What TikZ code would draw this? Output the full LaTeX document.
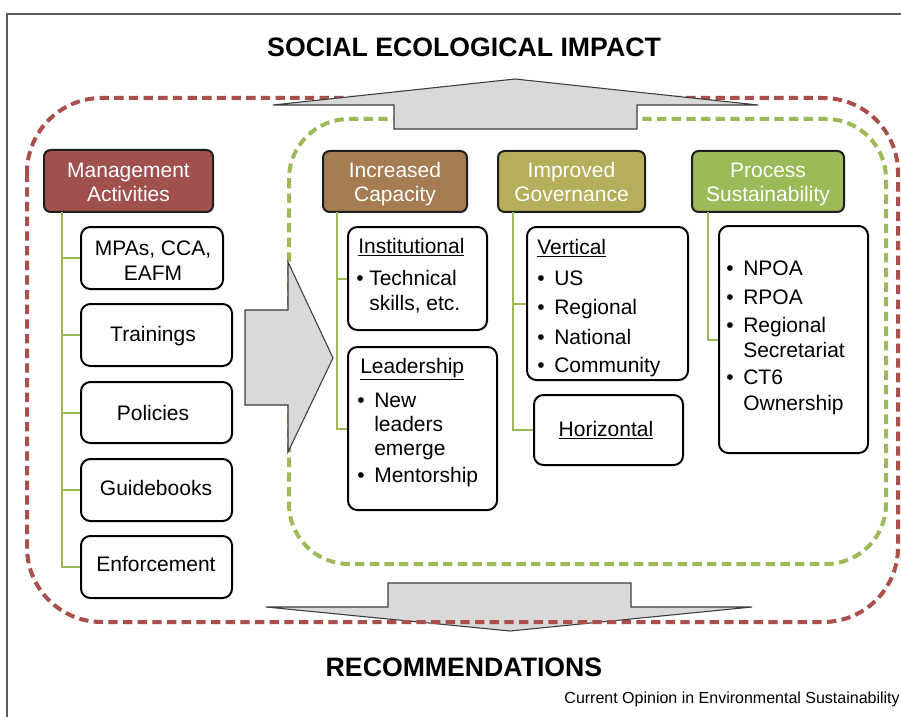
\documentclass[tikz,border=0pt]{standalone}
\usepackage{fontspec}
\setmainfont{Liberation Sans}
\usetikzlibrary{fit}
\definecolor{dashred}{RGB}{170,80,76}
\definecolor{dashgreen}{RGB}{155,187,89}
\definecolor{conngreen}{RGB}{155,187,89}
\definecolor{hdrline}{RGB}{30,30,30}
\definecolor{mafill}{RGB}{160,80,77}
\definecolor{icfill}{RGB}{166,124,82}
\definecolor{igfill}{RGB}{181,174,90}
\definecolor{psfill}{RGB}{155,187,89}
\definecolor{arrowfill}{RGB}{217,217,217}
\definecolor{arrowline}{RGB}{60,60,60}
\definecolor{framegray}{RGB}{90,90,90}
\begin{document}
\begin{tikzpicture}[x=0.75pt,y=-0.75pt,
 txt/.style={font=\fontsize{15.75}{19}\selectfont, inner sep=0pt, anchor=base west},
 ctxt/.style={txt, anchor=base},
 htxt/.style={ctxt, text=white},
 hdr/.style={draw=hdrline, line width=1.5pt, rounded corners=5pt, inner sep=0pt},
 wbox/.style={draw=black, fill=white, line width=1.5pt, rounded corners=7pt, inner sep=0pt},
 conn/.style={draw=conngreen, line width=1.5pt},
 bigarrow/.style={fill=arrowfill, draw=arrowline, line width=0.8pt, line join=miter},
 reddash/.style={draw=dashred, line width=3pt, dash pattern=on 7pt off 4pt},
 greendash/.style={draw=dashgreen, line width=3pt, dash pattern=on 7pt off 4pt},
 bigtitle/.style={font=\fontsize{20}{24}\selectfont\bfseries, inner sep=0pt}
]
\useasboundingbox (0,0) rectangle (901,717);
% frame
\draw[framegray, line width=1.5pt] (7,717) -- (7,14) -- (901,14);
% titles
\node[bigtitle] (title) at (464,47) {SOCIAL ECOLOGICAL IMPACT};
\node[bigtitle] (reco) at (464,667) {RECOMMENDATIONS};
\node[font=\fontsize{12}{14}\selectfont, inner sep=0pt, anchor=base east] (src) at (900,703) {Current Opinion in Environmental Sustainability};
% dashed frames and big arrows
\draw[greendash, rounded corners=45pt] (289,119) rectangle (886,564);
\draw[bigarrow] (266,607) -- (388,607) -- (388,583) -- (631,583) -- (631,607) -- (752,607) -- (510,631) -- cycle;
\draw[reddash, rounded corners=56pt] (27,98) rectangle (898,622);
\draw[bigarrow] (273,105) -- (515,79) -- (758,105) -- (637,105) -- (637,129) -- (394,129) -- (394,105) -- cycle;
\draw[bigarrow] (245,310) -- (288,310) -- (288,262) -- (333,358) -- (288,452) -- (288,405) -- (245,405) -- cycle;
% headers
\node[hdr, fill=mafill, fit={(44,150) (213,212)}] (ma) {};
\node[hdr, fill=icfill, fit={(323,151) (467,212)}] (ic) {};
\node[hdr, fill=igfill, fit={(498,151) (645,212)}] (ig) {};
\node[hdr, fill=psfill, fit={(692,151) (844,212)}] (ps) {};
\node[htxt] (ma1) at (128.5,178) {Management};
\node[htxt] (ma2) at (128.5,201) {Activities};
\node[htxt] (ic1) at (395,178) {Increased};
\node[htxt] (ic2) at (395,202) {Capacity};
\node[htxt] (ig1) at (571.5,178) {Improved};
\node[htxt] (ig2) at (571.5,202) {Governance};
\node[htxt] (ps1) at (768,178) {Process};
\node[htxt] (ps2) at (768,202) {Sustainability};
% junction points
\coordinate (maj) at (62,212);
\coordinate (icj) at (337,212);
\coordinate (igj) at (513,212);
\coordinate (psj) at (708,212);
% left column boxes
\node[wbox, fit={(81,227) (223,289)}] (mpa) {};
\node[wbox, fit={(81,304) (232,366)}] (trn) {};
\node[wbox, fit={(81,382) (232,443)}] (pol) {};
\node[wbox, fit={(81,459) (232,521)}] (gui) {};
\node[wbox, fit={(81,536) (232,598)}] (enf) {};
% other boxes
\node[wbox, fit={(348,227) (487,330)}] (inst) {};
\node[wbox, fit={(348,347) (497,510)}] (lead) {};
\node[wbox, fit={(527,227) (688,380)}] (vert) {};
\node[wbox, fit={(534,395) (683,465)}] (hori) {};
\node[wbox, fit={(719,226) (868,453)}] (proc) {};
% connectors
\draw[conn] (maj) |- (enf.west);
\draw[conn] (maj |- mpa.west) -- (mpa.west);
\draw[conn] (maj |- trn.west) -- (trn.west);
\draw[conn] (maj |- pol.west) -- (pol.west);
\draw[conn] (maj |- gui.west) -- (gui.west);
\draw[conn] (icj) |- (lead.west);
\draw[conn] (icj |- inst.west) -- (inst.west);
\draw[conn] (igj) |- (hori.west);
\draw[conn] (igj |- vert.west) -- (vert.west);
\draw[conn] (psj) |- (proc.west);
% left column texts
\node[ctxt] (mpa1) at (153,255) {MPAs, CCA,};
\node[ctxt] (mpa2) at (153,280) {EAFM};
\node[ctxt] (trn1) at (153,341) {Trainings};
\node[ctxt] (pol1) at (153,420) {Policies};
\node[ctxt] (gui1) at (156,495) {Guidebooks};
\node[ctxt] (enf1) at (156,571) {Enforcement};
% increased capacity texts
\node[txt] (inst1) at (358,253) {\underline{Institutional}};
\node[txt] (inst2b) at (356,285) {•};
\node[txt] (inst2) at (369,285) {Technical};
\node[txt] (inst3) at (369,310) {skills, etc.};
\node[txt] (lead1) at (360,373) {\underline{Leadership}};
\node[txt] (lead2b) at (357,407) {•};
\node[txt] (lead2) at (374,407) {New};
\node[txt] (lead3) at (374,431) {leaders};
\node[txt] (lead4) at (374,455) {emerge};
\node[txt] (lead5b) at (357,482) {•};
\node[txt] (lead5) at (374,482) {Mentorship};
% governance texts
\node[txt] (vert1) at (537,254) {\underline{Vertical}};
\node[txt] (vert2b) at (537,285) {•};
\node[txt] (vert2) at (554,285) {US};
\node[txt] (vert3b) at (537,314) {•};
\node[txt] (vert3) at (554,314) {Regional};
\node[txt] (vert4b) at (537,344) {•};
\node[txt] (vert4) at (554,344) {National};
\node[txt] (vert5b) at (537,372) {•};
\node[txt] (vert5) at (554,372) {Community};
\node[ctxt] (hori1) at (606,436) {\underline{Horizontal}};
% process texts
\node[txt] (proc1b) at (726,275) {•};
\node[txt] (proc1) at (743,275) {NPOA};
\node[txt] (proc2b) at (726,304) {•};
\node[txt] (proc2) at (743,304) {RPOA};
\node[txt] (proc3b) at (726,332) {•};
\node[txt] (proc3) at (743,332) {Regional};
\node[txt] (proc4) at (743,357) {Secretariat};
\node[txt] (proc5b) at (726,384) {•};
\node[txt] (proc5) at (743,384) {CT6};
\node[txt] (proc6) at (743,410) {Ownership};
\end{tikzpicture}
\end{document}
